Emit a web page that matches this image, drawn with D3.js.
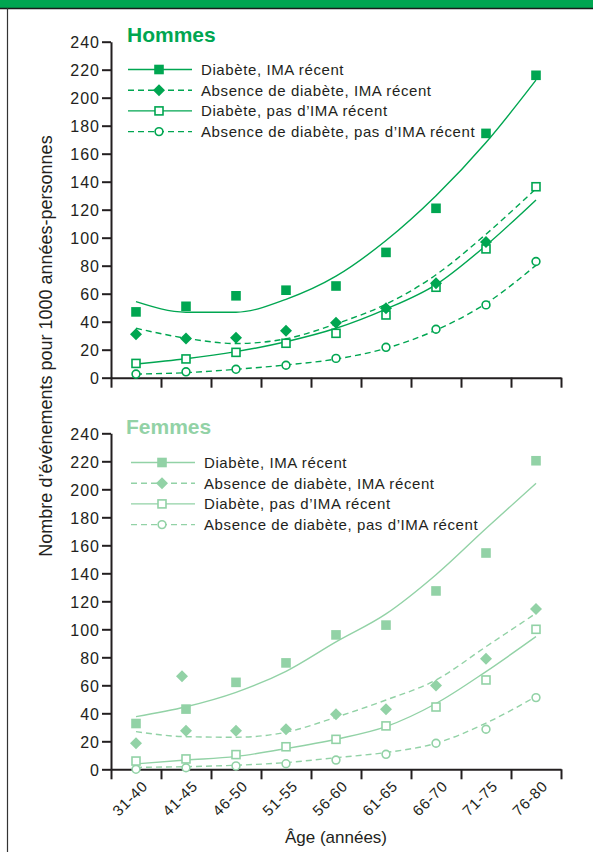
<!DOCTYPE html>
<html><head><meta charset="utf-8">
<script src="https://cdn.jsdelivr.net/npm/d3@7"></script>
<style>
body{margin:0;background:#fff;}
text{font-family:"Liberation Sans",Arial,sans-serif;fill:#231f20;}
</style>
</head><body>
<svg id="c" width="593" height="852"></svg>
<script>
// ---------- DATA ----------
const categories = ["31-40","41-45","46-50","51-55","56-60","61-65","66-70","71-75","76-80"];
const yTicks = [0,20,40,60,80,100,120,140,160,180,200,220,240];
const seriesNames = ["Diabète, IMA récent","Absence de diabète, IMA récent","Diabète, pas d’IMA récent","Absence de diabète, pas d’IMA récent"];
const yTitle = "Nombre d’événements pour 1000 années-personnes";
const xTitle = "Âge (années)";

// Hommes – observed points
const hDiabIMA      = [47, 51, 58.5, 62.5, 65.5, 89.5, 121, 174.5, 216];
const hNoDiabIMA    = [31, 28, 28.5, 33.5, 39.3, 49.6, 67.4, 97, null];
const hDiabNoIMA    = [10.2, 13.4, 18.1, 24.6, 31.7, 44.8, 64.6, 92, 136.4];
const hNoDiabNoIMA  = [2.6, 4.2, 6, 8.9, 13.8, 21.7, 34.6, 52, 83];
// Hommes – fitted curves
const hDiabIMAFit     = [54.3, 46.8, 46.8, 56, 72.5, 98, 130, 168, 212.6];
const hNoDiabIMAFit   = [35.3, 28.2, 24.4, 27.8, 38.5, 52.5, 73.5, 102.5, 135];
const hDiabNoIMAFit   = [9.8, 13.5, 18.6, 25.7, 35.3, 49, 66.5, 94.5, 127];
const hNoDiabNoIMAFit = [2.6, 3.6, 6, 9.1, 13.3, 21, 34, 53, 80.3];

// Femmes – observed points
const fDiabIMA      = [32.7, 43, 62.1, 76, 96, 103, 127.4, 154.5, 220.4];
const fNoDiabIMA    = [18.6, 27.6, 27.6, 28.6, 39.3, 42.9, 59.8, 79, 114.5];
const fNoDiabIMAOutlier = {category: "41-45", value: 66.5};
const fDiabNoIMA    = [5.9, 7.4, 10.5, 16.1, 21.4, 31, 44.5, 63.8, 100];
const fNoDiabNoIMA  = [0, 1.1, 2.4, 4, 6.6, 10.7, 18.6, 28.6, 51.2];
// Femmes – fitted curves
const fDiabIMAFit     = [37.6, 44.7, 55, 70, 91, 111, 139, 172, 204.3];
const fNoDiabIMAFit   = [26.9, 23.3, 22.9, 26.5, 37.2, 49.5, 63.8, 87.6, 111.4];
const fDiabNoIMAFit   = [3.9, 6.6, 9.2, 14.8, 21.5, 30.5, 47, 69.8, 94.8];
const fNoDiabNoIMAFit = [1.4, 1.9, 2.9, 4.8, 8.3, 12, 18.6, 33, 52];

// ---------- DRAW ----------
const svg = d3.select("#c");
const DARK = "#00a651", LIGHT = "#92d2a6", INK = "#231f20";

// frame
svg.append("rect").attr("x",0).attr("y",0).attr("width",593).attr("height",8).attr("fill",DARK);
svg.append("line").attr("x1",0).attr("x2",593).attr("y1",8.5).attr("y2",8.5).attr("stroke","#1a1a1a").attr("stroke-width",1.5);
svg.append("line").attr("x1",7.5).attr("x2",7.5).attr("y1",8).attr("y2",852).attr("stroke","#333").attr("stroke-width",1.2);

const X0 = 111, X1 = 561;
const x = d3.scaleBand().domain(categories).range([X0, X1]);
const xb = d3.scaleLinear().domain([0, categories.length]).range([X0, X1]);

const styles = [
  {shape:"square",  filled:true,  dash:null},
  {shape:"diamond", filled:true,  dash:"6,4"},
  {shape:"square",  filled:false, dash:null},
  {shape:"circle",  filled:false, dash:"6,4"}
];

function marker(g, shape, filled, color){
  if (shape === "square") {
    if (filled) g.append("rect").attr("x",-4.8).attr("y",-4.8).attr("width",9.6).attr("height",9.6).attr("fill",color);
    else g.append("rect").attr("x",-4).attr("y",-4).attr("width",8).attr("height",8).attr("fill","#fff").attr("stroke",color).attr("stroke-width",1.6);
  } else if (shape === "diamond") {
    g.append("path").attr("d","M0,-6L6,0L0,6L-6,0Z").attr("fill",color);
  } else {
    g.append("circle").attr("r",3.9).attr("fill","#fff").attr("stroke",color).attr("stroke-width",1.6);
  }
}

function panel(cfg){
  const y = d3.scaleLinear().domain([0,240]).range([cfg.y0, cfg.y0 - 336]);
  const g = svg.append("g");

  // y axis
  const ya = g.append("g").attr("transform",`translate(${X0},0)`)
    .call(d3.axisLeft(y).tickValues(yTicks).tickSize(9).tickPadding(2).tickSizeOuter(0));
  ya.select(".domain").attr("stroke",INK).attr("stroke-width",2);
  ya.selectAll(".tick line").attr("stroke",INK).attr("stroke-width",2);
  ya.selectAll(".tick text").attr("font-size",16).attr("letter-spacing","1px")
    .attr("font-family","Liberation Sans, Arial, sans-serif").attr("fill","#2a2a2a").attr("dy","0.36em");

  // x axis
  const xa = g.append("g").attr("transform",`translate(0,${cfg.y0})`)
    .call(d3.axisBottom(xb).tickValues(d3.range(categories.length+1)).tickFormat("").tickSize(10).tickSizeOuter(0));
  xa.select(".domain").attr("stroke",INK).attr("stroke-width",2);
  xa.selectAll(".tick line").attr("stroke",INK).attr("stroke-width",2);

  if (cfg.labels) {
    g.append("g").selectAll("text").data(categories).join("text")
      .attr("transform", d => `translate(${x(d)+x.bandwidth()/2+9},${cfg.y0+14}) rotate(-45)`)
      .attr("text-anchor","end").attr("font-size",15).attr("letter-spacing","0.8px")
      .attr("dy","0.35em").attr("fill","#2a2a2a").text(d => d);
  }

  // title
  g.append("text").attr("x",cfg.titleX).attr("y",cfg.titleY).attr("font-size",21).attr("font-weight","bold")
    .attr("style",`fill:${cfg.color}`).text(cfg.title);

  const cx = (d) => x(d) + x.bandwidth()/2;
  const line = d3.line().defined(d => d.v != null).x(d => cx(d.c)).y(d => y(d.v)).curve(d3.curveMonotoneX);

  cfg.series.forEach((s, i) => {
    const st = styles[i];
    const fit = s.fit.map((v,k) => ({c:categories[k], v}));
    g.append("path").attr("d", line(fit)).attr("fill","none").attr("stroke",cfg.color)
      .attr("stroke-width",1.4).attr("stroke-dasharray", st.dash);
  });
  // draw markers after lines (order: circles bottom, squares top)
  [3,2,1,0].forEach(i => {
    const st = styles[i];
    const s = cfg.series[i];
    s.obs.forEach((v,k) => {
      if (v == null) return;
      const m = g.append("g").attr("transform",`translate(${cx(categories[k])},${y(v)})`);
      marker(m, st.shape, st.filled, cfg.color);
    });
  });
  if (cfg.outlier) {
    const m = g.append("g").attr("transform",`translate(${cx(cfg.outlier.category)-4},${y(cfg.outlier.value)})`);
    marker(m, "diamond", true, cfg.color);
  }

  // legend
  seriesNames.forEach((name, i) => {
    const st = styles[i];
    const ly = cfg.legY + i*20.7;
    g.append("line").attr("x1",cfg.legX).attr("x2",cfg.legX+64).attr("y1",ly).attr("y2",ly)
      .attr("stroke",cfg.color).attr("stroke-width",1.4).attr("stroke-dasharray", st.dash);
    const m = g.append("g").attr("transform",`translate(${cfg.legX+31},${ly})`);
    marker(m, st.shape, st.filled, cfg.color);
    g.append("text").attr("x",cfg.legX+73).attr("y",ly).attr("dy","0.36em").attr("font-size",15)
      .attr("letter-spacing","0.6px").attr("fill","#2a2a2a").text(name);
  });
}

panel({y0:377.7, color:DARK, title:"Hommes", titleX:127, titleY:42, legX:128, legY:69.5, labels:false,
  series:[{obs:hDiabIMA,fit:hDiabIMAFit},{obs:hNoDiabIMA,fit:hNoDiabIMAFit},{obs:hDiabNoIMA,fit:hDiabNoIMAFit},{obs:hNoDiabNoIMA,fit:hNoDiabNoIMAFit}]});
panel({y0:769.3, color:LIGHT, title:"Femmes", titleX:126, titleY:434, legX:131, legY:462.5, labels:true,
  outlier:fNoDiabIMAOutlier,
  series:[{obs:fDiabIMA,fit:fDiabIMAFit},{obs:fNoDiabIMA,fit:fNoDiabIMAFit},{obs:fDiabNoIMA,fit:fDiabNoIMAFit},{obs:fNoDiabNoIMA,fit:fNoDiabNoIMAFit}]});

// axis titles
svg.append("text").attr("transform","translate(52,346) rotate(-90)").attr("text-anchor","middle")
  .attr("font-size",18).attr("fill","#2a2a2a").text(yTitle);
svg.append("text").attr("x",(X0+X1)/2).attr("y",843).attr("text-anchor","middle")
  .attr("font-size",17).attr("fill","#2a2a2a").text(xTitle);
</script>
</body></html>
